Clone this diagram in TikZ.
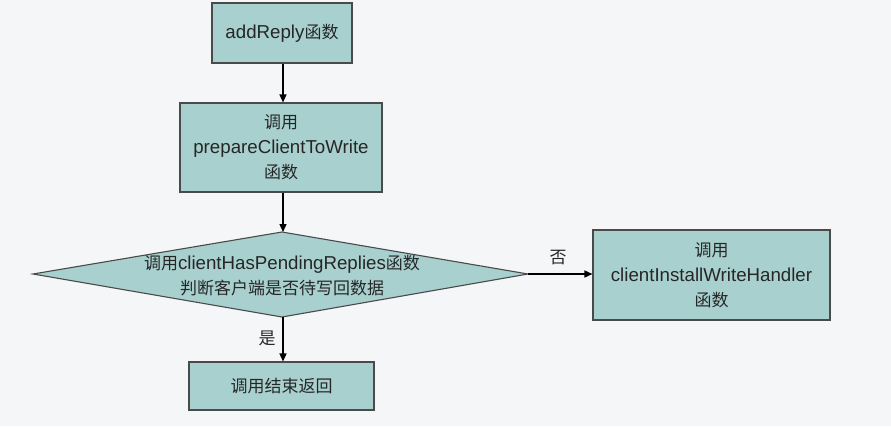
\documentclass[tikz,border=0pt]{standalone}
\usepackage{fontspec}
\setmainfont[Scale=1.1]{Liberation Sans}
\newfontfamily\cjk{Noto Sans CJK SC}
\usetikzlibrary{arrows.meta}
\definecolor{bg}{HTML}{F5F6F8}
\definecolor{boxfill}{HTML}{A8D0CF}
\definecolor{boxline}{HTML}{4A4A4A}
\begin{document}
\begin{tikzpicture}[x=1pt,y=-1pt,
  every node/.style={font=\fontsize{17}{25}\selectfont, text=black!85},
  procbox/.style={draw=boxline, line width=1.1pt, fill=boxfill, inner sep=0pt, align=center},
  flow/.style={draw=black, line width=1.4pt, -{Triangle[length=8pt,width=7pt]}},
  lbl/.style={inner sep=0pt}]
\useasboundingbox[fill=bg] (0,0) rectangle (891,426);
\node[procbox, minimum width=140pt, minimum height=60pt] (add) at (282,33) {addReply{\cjk 函数}};
\node[procbox, minimum width=202pt, minimum height=89pt] (prep) at (281,147.5) {{\cjk 调用}\\prepareClientToWrite\\{\cjk 函数}};
\coordinate (dl) at (33,274);
\coordinate (dr) at (528,274);
\coordinate (dt) at (282,232);
\coordinate (db) at (282,317);
\filldraw[draw=boxline, line width=1.1pt, fill=boxfill] (dl) -- (dt) -- (dr) -- (db) -- cycle;
\node[lbl, align=center] (dec) at (282,276) {{\cjk 调用}clientHasPendingReplies{\cjk 函数}\\{\cjk 判断客户端是否待写回数据}};
\node[procbox, minimum width=237pt, minimum height=90pt] (inst) at (711.5,275) {{\cjk 调用}\\clientInstallWriteHandler\\{\cjk 函数}};
\node[procbox, minimum width=185pt, minimum height=48pt] (done) at (281.5,386) {\cjk 调用结束返回};
\draw[flow] (add.south -| 283,0) -- (prep.north -| 283,0);
\draw[flow] (prep.south -| 283,0) -- (dt -| 283,0);
\draw[flow] (db -| 283,0) -- (done.north -| 283,0);
\draw[flow] (dr) -- (inst.west |- dr);
\node[lbl] (no) at (558,258) {\cjk 否};
\node[lbl] (yes) at (267,338) {\cjk 是};
\end{tikzpicture}
\end{document}
